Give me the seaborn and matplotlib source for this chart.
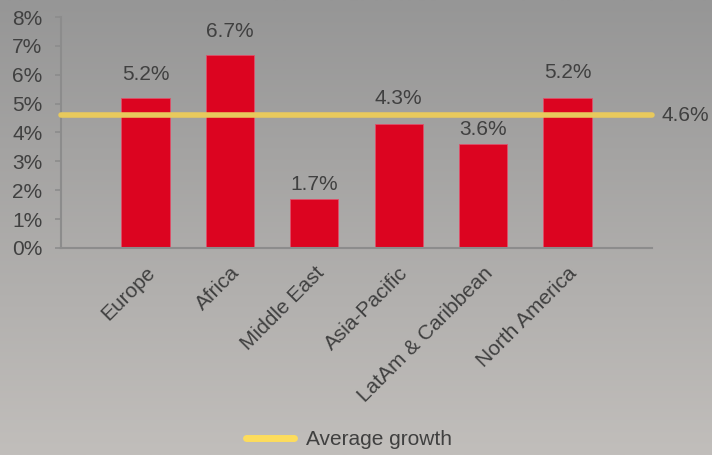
import numpy as np
import pandas as pd
import seaborn as sns
import matplotlib.pyplot as plt
from matplotlib.lines import Line2D
from matplotlib.colors import LinearSegmentedColormap

# bölgeler ve büyüme oranları (%)
regions = ["Europe", "Africa", "Middle East", "Asia-Pacific",
           "LatAm & Caribbean", "North America"]
growth = [5.2, 6.7, 1.7, 4.3, 3.6, 5.2]
average_growth = 4.6
yticks = [0, 1, 2, 3, 4, 5, 6, 7, 8]

df = pd.DataFrame({"Region": regions, "Growth": growth})

sns.set_style("white")
plt.rcParams["font.family"] = ["Liberation Sans", "DejaVu Sans"]
text_col = "#404040"
fs = 15
# etiketlerin çubuk üstünden uzaklığı (punto)
label_pad = [10, 9.4, 3.6, 11.5, 3.6, 11.5]

fig = plt.figure(figsize=(7.12, 4.55), dpi=100)

# arka plan gradyanı
bg = fig.add_axes([0, 0, 1, 1], zorder=-10)
grad = np.linspace(0, 1, 256).reshape(-1, 1)
cmap = LinearSegmentedColormap.from_list("bg", ["#969696", "#c1bebb"])
bg.imshow(grad, aspect="auto", cmap=cmap, extent=[0, 1, 0, 1])
bg.set_axis_off()

ax = fig.add_axes([0.0857, 0.455, 0.83, 0.5076])
ax.set_facecolor("none")

sns.barplot(data=df, x="Region", y="Growth", color="#DC0420", width=0.57,
            saturation=1, edgecolor="#e0506a", linewidth=0.6, ax=ax)

for i, v in enumerate(growth):
    ax.annotate(f"{v:.1f}%", (i, v), xytext=(0, label_pad[i]),
                textcoords="offset points", ha="center", va="bottom",
                fontsize=fs, color=text_col)

ax.set_xlim(-1, 6)
ax.set_ylim(0, 8)
ax.plot([-1, 6], [average_growth, average_growth], color="#E8C95C", lw=4,
        solid_capstyle="round", clip_on=False, zorder=5)
ax.annotate(f"{average_growth:.1f}%", (6, average_growth), xytext=(7, 0),
            textcoords="offset points", ha="left", va="center",
            fontsize=fs, color=text_col, annotation_clip=False)

ax.set_yticks(yticks)
ax.set_yticklabels([f"{t}%" for t in yticks])
ax.set_xticks(range(len(regions)))
ax.set_xticklabels(regions, rotation=45, ha="right", rotation_mode="anchor")
ax.set_xticks(np.arange(-0.5, 6, 1), minor=True)
ax.tick_params(axis="x", which="major", length=0, pad=11, labelsize=fs,
               labelcolor=text_col)
ax.tick_params(axis="x", which="minor", length=3, width=1.2, color="#8c8c8c",
               direction="out")
ax.tick_params(axis="y", length=4.5, width=1.2, color="#8c8c8c", labelsize=fs,
               labelcolor=text_col, left=True, pad=9)
ax.set_xlabel("")
ax.set_ylabel("")
sns.despine(ax=ax)
for s in ["left", "bottom"]:
    ax.spines[s].set_color("#8c8c8c")
    ax.spines[s].set_linewidth(1.5)

handle = Line2D([0], [0], color="#FDDC5C", lw=5)
fig.legend([handle], ["Average growth"], loc="lower center",
           bbox_to_anchor=(0.49, -0.028), frameon=False, fontsize=fs,
           handlelength=2.3, handletextpad=0.6, labelcolor=text_col)

fig.savefig("out.png", dpi=100)
